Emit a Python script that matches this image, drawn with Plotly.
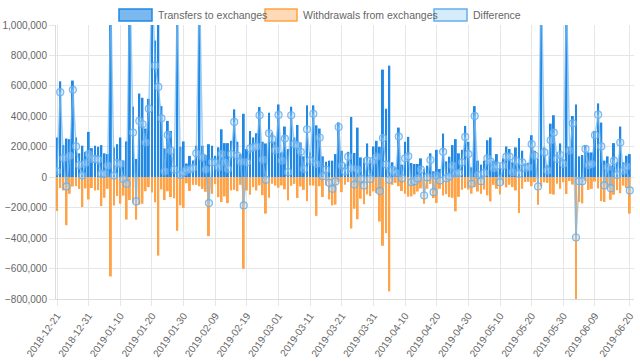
import plotly.graph_objects as go
import pandas as pd

start_date = "2018-12-21"
transfers = [
    261000, 630000, 211000, 254000, 250000, 635000, 261000, 157000, 207000, 167000,
    298000, 191000, 207000, 200000, 211000, 157000, 152000, 1800000, 196000, 217000,
    261000, 110000, 235000, 1500000, 463000, 120000, 550000, 522000, 320000, 515000,
    1400000, 898000, 1108000, 467000, 189000, 370000, 304000, 189000, 1500000, 200000,
    235000, 90000, 140000, 110000, 207000, 1350000, 207000, 146000, 217000, 207000,
    141000, 196000, 315000, 224000, 224000, 239000, 446000, 233000, 152000, 417000,
    185000, 304000, 261000, 289000, 461000, 233000, 222000, 424000, 293000, 233000,
    478000, 163000, 333000, 185000, 463000, 261000, 343000, 228000, 137000, 472000,
    163000, 472000, 341000, 320000, 137000, 102000, 109000, 109000, 152000, 360000,
    174000, 87000, 167000, 396000, 159000, 326000, 130000, 124000, 222000, 113000,
    202000, 239000, 200000, 707000, 450000, 733000, 98000, 65000, 326000, 83000,
    233000, 265000, 93000, 87000, 87000, 124000, 54000, 76000, 157000, 39000,
    180000, 54000, 287000, 104000, 135000, 211000, 250000, 157000, 180000, 337000,
    233000, 65000, 467000, 109000, 83000, 109000, 243000, 261000, 109000, 152000,
    80000, 124000, 202000, 185000, 98000, 196000, 257000, 174000, 90000, 95000,
    276000, 174000, 120000, 1400000, 196000, 80000, 352000, 407000, 163000, 222000,
    120000, 1300000, 200000, 402000, 478000, 137000, 146000, 211000, 163000, 163000,
    304000, 485000, 359000, 109000, 137000, 76000, 224000, 100000, 333000, 98000,
    141000, 152000,
]
withdrawals = [
    222000, 71000, 87000, 315000, 109000, 61000, 59000, 77000, 196000, 74000,
    146000, 71000, 87000, 85000, 189000, 135000, 76000, 652000, 185000, 124000,
    174000, 121000, 278000, 150000, 170000, 279000, 180000, 174000, 92000, 65000,
    100000, 165000, 515000, 80000, 150000, 92000, 130000, 139000, 352000, 185000,
    202000, 40000, 90000, 50000, 50000, 60000, 77000, 96000, 387000, 109000,
    45000, 131000, 163000, 126000, 170000, 87000, 83000, 92000, 50000, 602000,
    87000, 115000, 65000, 87000, 54000, 118000, 239000, 135000, 43000, 55000,
    69000, 54000, 79000, 152000, 56000, 44000, 136000, 61000, 83000, 157000,
    54000, 55000, 254000, 59000, 130000, 52000, 146000, 185000, 180000, 30000,
    98000, 50000, 32000, 337000, 207000, 276000, 141000, 178000, 113000, 124000,
    93000, 104000, 291000, 450000, 367000, 750000, 50000, 37000, 59000, 90000,
    109000, 128000, 126000, 113000, 94000, 74000, 174000, 76000, 44000, 137000,
    169000, 76000, 120000, 111000, 131000, 135000, 224000, 129000, 82000, 72000,
    81000, 108000, 65000, 94000, 109000, 81000, 119000, 159000, 50000, 76000,
    113000, 48000, 67000, 50000, 65000, 87000, 235000, 76000, 31000, 30000,
    59000, 33000, 181000, 60000, 33000, 37000, 109000, 114000, 43000, 76000,
    33000, 110000, 25000, 48000, 874000, 163000, 172000, 25000, 83000, 76000,
    28000, 74000, 157000, 163000, 72000, 148000, 115000, 85000, 105000, 55000,
    71000, 239000,
]
tick_labels = ["2018-12-21", "2018-12-31", "2019-01-10", "2019-01-20", "2019-01-30",
               "2019-02-09", "2019-02-19", "2019-03-01", "2019-03-11", "2019-03-21",
               "2019-03-31", "2019-04-10", "2019-04-20", "2019-04-30", "2019-05-10",
               "2019-05-20", "2019-05-30", "2019-06-09", "2019-06-20"]
y_ticks = [1000000, 800000, 600000, 400000, 200000, 0, -200000, -400000, -600000, -800000]
series_names = ["Transfers to exchanges", "Withdrawals from exchanges", "Difference"]

dates = pd.date_range(start_date, periods=len(transfers), freq="D")
difference = [t - w for t, w in zip(transfers, withdrawals)]
neg_withdrawals = [-w for w in withdrawals]

BLUE = "rgb(33,136,229)"
ORANGE = "rgb(255,163,72)"
FONT = "Liberation Sans, Arial, sans-serif"
GREY = "#666666"

fig = go.Figure()
fig.add_trace(go.Bar(x=dates, y=transfers, name=series_names[0],
                     marker=dict(color=BLUE, line=dict(width=0))))
fig.add_trace(go.Bar(x=dates, y=neg_withdrawals, name=series_names[1],
                     marker=dict(color=ORANGE, line=dict(width=0))))
fig.add_trace(go.Scatter(x=dates, y=difference, name=series_names[2], mode="lines+markers",
                         line=dict(color="rgba(120,186,240,0.7)", width=1.5),
                         marker=dict(size=7, color="rgba(170,210,245,0.4)",
                                     line=dict(color="rgba(100,175,238,0.85)", width=1.2))))

fig.update_layout(
    width=640, height=361,
    margin=dict(l=56, r=6, t=25, b=62),
    paper_bgcolor="white", plot_bgcolor="white",
    barmode="overlay", bargap=0.38,
    showlegend=False,
    font=dict(family=FONT, size=10, color=GREY),
)
fig.update_xaxes(
    type="date", automargin=False,
    range=["2018-12-20 16:00", "2019-06-21 08:00"],
    tickmode="array", tickvals=tick_labels, ticktext=tick_labels,
    tickangle=-55, tickfont=dict(size=10, color=GREY),
    showgrid=True, gridcolor="#e6e6e6", gridwidth=1,
    ticks="outside", ticklen=6, tickcolor="#e6e6e6",
    showline=True, linecolor="#dcdcdc", linewidth=1,
    zeroline=False,
)
fig.update_yaxes(
    automargin=False,
    range=[-800000, 1000000],
    tickvals=y_ticks, tickformat=",d",
    tickfont=dict(size=10, color=GREY),
    showgrid=True, gridcolor="#e6e6e6", gridwidth=1,
    ticks="outside", ticklen=6, tickcolor="#e6e6e6",
    showline=True, linecolor="#dcdcdc", linewidth=1,
    zeroline=False,
)

# Chart.js style legend drawn as boxes + labels (paper coords from page pixels)
pw, ph = 578.0, 274.0
def px(xp):
    return (xp - 56) / pw
def py(yp):
    return (299 - yp) / ph

legend_items = [
    (119, 152, "rgba(33,136,229,0.6)", "rgb(33,136,229)", series_names[0]),
    (265, 297, "rgba(255,163,72,0.4)", "rgb(255,163,72)", series_names[1]),
    (434, 467, "rgba(54,162,235,0.2)", "rgb(100,175,240)", series_names[2]),
]
for x0, x1, fill, border, label in legend_items:
    fig.add_shape(type="rect", xref="paper", yref="paper",
                  x0=px(x0), x1=px(x1), y0=py(21), y1=py(9),
                  fillcolor=fill, line=dict(color=border, width=1.5))
    fig.add_annotation(xref="paper", yref="paper", x=px(x1 + 4), y=py(15),
                       text=label, showarrow=False, xanchor="left", yanchor="middle",
                       font=dict(family=FONT, size=10.5, color=GREY))

fig.write_html("out.html", config={"displayModeBar": False},
               post_script="document.body.style.margin='0';")
